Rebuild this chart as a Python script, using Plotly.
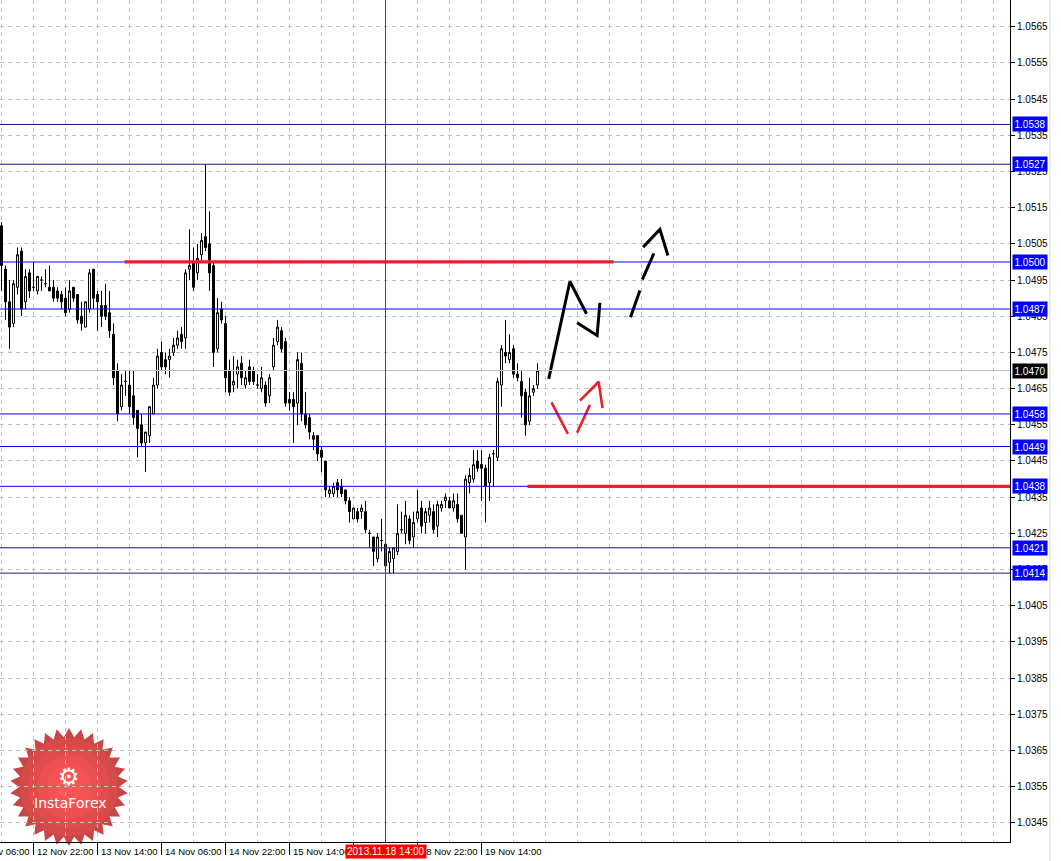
import numpy as np
import plotly.graph_objects as go

# ---------------- data (H1 bars, index 0 = 12 Nov 14:00) ----------------
open_ = [1.0510,1.0498,1.0489,1.0483,1.0493,1.0503,1.0489,1.0497,1.0493,1.0492,
         1.0495,1.0494,1.0493,1.0493,1.0492,1.0491,1.0490,1.0487,1.0493,1.0491,
         1.0485,1.0482,1.0487,1.0498,1.0491,1.0488,1.0488,1.0486,1.0480,1.0470,
         1.0460,1.0467,1.0466,1.0463,1.0459,1.0455,1.0450,1.0452,1.0458,1.0466,
         1.0475,1.0473,1.0473,1.0475,1.0477,1.0480,1.0479,1.0498,1.0500,1.0497,
         1.0502,1.0507,1.0505,1.0499,1.0476,1.0487,1.0483,1.0470,1.0466,1.0469,
         1.0472,1.0466,1.0471,1.0470,1.0466,1.0465,1.0466,1.0463,1.0471,1.0478,
         1.0481,1.0478,1.0462,1.0462,1.0461,1.0472,1.0458,1.0457,1.0452,1.0452,
         1.0448,1.0445,1.0436,1.0436,1.0439,1.0438,1.0437,1.0434,1.0429,1.0431,
         1.0431,1.0431,1.0425,1.0424,1.0418,1.0423,1.0422,1.0417,1.0418,1.0420,
         1.0426,1.0425,1.0429,1.0424,1.0429,1.0432,1.0428,1.0430,1.0431,1.0427,
         1.0432,1.0434,1.0434,1.0432,1.0433,1.0430,1.0424,1.0439,1.0440,1.0445,
         1.0444,1.0443,1.0439,1.0447,1.0446,1.0466,1.0475,1.0473,1.0476,1.0469,
         1.0467,1.0464,1.0456,1.0464,1.0466]
high = [1.0511,1.0499,1.0495,1.0495,1.0504,1.0504,1.0498,1.0498,1.0500,1.0496,
        1.0496,1.0498,1.0499,1.0495,1.0493,1.0492,1.0493,1.0495,1.0493,1.0491,
        1.0489,1.0489,1.0498,1.0498,1.0492,1.0492,1.0494,1.0492,1.0483,1.0472,
        1.0469,1.0470,1.0470,1.0470,1.0459,1.0458,1.0453,1.0460,1.0468,1.0476,
        1.0478,1.0475,1.0476,1.0479,1.0481,1.0482,1.0498,1.0509,1.0504,1.0505,
        1.0508,1.0527,1.0514,1.0500,1.0490,1.0489,1.0485,1.0473,1.0474,1.0473,
        1.0474,1.0470,1.0473,1.0471,1.0469,1.0471,1.0467,1.0469,1.0479,1.0484,
        1.0482,1.0479,1.0464,1.0464,1.0475,1.0475,1.0464,1.0458,1.0453,1.0452,
        1.0449,1.0445,1.0438,1.0439,1.0440,1.0440,1.0437,1.0435,1.0432,1.0432,
        1.0433,1.0434,1.0426,1.0424,1.0425,1.0429,1.0423,1.0421,1.0421,1.0433,
        1.0431,1.0434,1.0430,1.0431,1.0437,1.0434,1.0432,1.0434,1.0433,1.0434,
        1.0434,1.0436,1.0435,1.0436,1.0436,1.0430,1.0441,1.0443,1.0448,1.0448,
        1.0448,1.0444,1.0447,1.0448,1.0468,1.0477,1.0484,1.0480,1.0477,1.0472,
        1.0470,1.0465,1.0468,1.0466,1.0472]
low = [1.0492,1.0484,1.0476,1.0482,1.0491,1.0485,1.0487,1.0490,1.0492,1.0491,
       1.0492,1.0493,1.0492,1.0489,1.0489,1.0487,1.0485,1.0486,1.0489,1.0483,
       1.0481,1.0482,1.0486,1.0487,1.0481,1.0482,1.0484,1.0479,1.0466,1.0456,
       1.0459,1.0463,1.0458,1.0455,1.0446,1.0449,1.0442,1.0450,1.0458,1.0465,
       1.0470,1.0469,1.0468,1.0474,1.0476,1.0476,1.0476,1.0495,1.0492,1.0495,
       1.0500,1.0503,1.0492,1.0471,1.0475,1.0483,1.0464,1.0463,1.0464,1.0465,
       1.0466,1.0465,1.0466,1.0466,1.0465,1.0464,1.0460,1.0461,1.0470,1.0477,
       1.0475,1.0460,1.0459,1.0450,1.0455,1.0456,1.0454,1.0451,1.0448,1.0445,
       1.0442,1.0435,1.0435,1.0435,1.0435,1.0435,1.0433,1.0428,1.0429,1.0428,
       1.0429,1.0425,1.0421,1.0416,1.0417,1.0420,1.0415,1.0414,1.0414,1.0419,
       1.0425,1.0422,1.0422,1.0421,1.0428,1.0425,1.0425,1.0428,1.0425,1.0424,
       1.0431,1.0432,1.0432,1.0431,1.0428,1.0425,1.0415,1.0436,1.0439,1.0442,
       1.0434,1.0428,1.0434,1.0438,1.0445,1.0460,1.0472,1.0472,1.0468,1.0467,
       1.0457,1.0452,1.0455,1.0463,1.0465]
close = [1.0499,1.0489,1.0482,1.0494,1.0502,1.0487,1.0496,1.0492,1.0493,1.0496,
         1.0495,1.0494,1.0492,1.0490,1.0490,1.0489,1.0486,1.0492,1.0490,1.0484,
         1.0483,1.0489,1.0497,1.0490,1.0489,1.0485,1.0485,1.0481,1.0468,1.0458,
         1.0466,1.0467,1.0460,1.0457,1.0454,1.0450,1.0453,1.0460,1.0466,1.0474,
         1.0471,1.0471,1.0474,1.0477,1.0479,1.0478,1.0497,1.0499,1.0493,1.0501,
         1.0506,1.0504,1.0497,1.0475,1.0486,1.0484,1.0468,1.0464,1.0467,1.0471,
         1.0468,1.0468,1.0467,1.0467,1.0466,1.0468,1.0461,1.0468,1.0477,1.0482,
         1.0476,1.0461,1.0461,1.0460,1.0473,1.0458,1.0455,1.0453,1.0451,1.0447,
         1.0446,1.0437,1.0437,1.0438,1.0437,1.0436,1.0434,1.0431,1.0432,1.0429,
         1.0432,1.0426,1.0425,1.0420,1.0424,1.0423,1.0416,1.0420,1.0421,1.0425,
         1.0426,1.0430,1.0423,1.0428,1.0431,1.0427,1.0431,1.0432,1.0426,1.0433,
         1.0433,1.0435,1.0432,1.0434,1.0429,1.0425,1.0440,1.0441,1.0444,1.0443,
         1.0443,1.0438,1.0446,1.0447,1.0467,1.0476,1.0474,1.0475,1.0469,1.0468,
         1.0463,1.0455,1.0463,1.0465,1.0470]
bar_index = list(range(len(close)))

# time axis labels (bar index -> label), every 16 bars
time_tick_bars = [-8, 8, 24, 40, 56, 72, 88, 104, 120]
time_tick_text = ["12 Nov 06:00", "12 Nov 22:00", "13 Nov 14:00", "14 Nov 06:00",
                  "14 Nov 22:00", "15 Nov 14:00", "18 Nov 06:00", "18 Nov 22:00",
                  "19 Nov 14:00"]
cursor_bar = 96
cursor_label = "2013.11.18 14:00"

# price axis ticks
price_ticks = [round(1.0345 + 0.001 * i, 4) for i in range(23)]

# horizontal levels
blue_levels = [1.0538, 1.0527, 1.0500, 1.0487, 1.0458, 1.0449, 1.0438, 1.0421, 1.0414]
dark_levels = [1.0538, 1.0527, 1.0414]
current_price = 1.0470

# thick red support / resistance segments: (start bar, end bar, price)
red_segments = [(30.75, 153.0, 1.0500), (131.5, 260.0, 1.0438)]

# forecast arrows (bar index, price)
black_solid_x = [136.8, 142.1, 146.25, None, 143.9, 148.9, 149.6]
black_solid_y = [1.04677, 1.04946, 1.04857, None, 1.04832, 1.04797, 1.04887]
black_dash_x = [157.25, 159.6, None, 160.2, 163.1, None, 160.4, 164.6, 166.6]
black_dash_y = [1.04847, 1.04921, None, 1.04951, 1.05024, None, 1.05041, 1.05090, 1.05018]
red_arrow_x = [137.5, 141.6, None, 143.9, 147.1, None, 144.6, 149.3, 150.25]
red_arrow_y = [1.04612, 1.04525, None, 1.04528, 1.04605, None, 1.04617, 1.04669, 1.04596]

# ---------------- layout constants ----------------
W, H = 1061, 861
ML, MR, MT, MB = 0, 51, 0, 19
PW, PH = W - ML - MR, H - MT - MB
XMIN = -0.375
XMAX = XMIN + PW / 4.0
YMIN, YMAX = 1.03397, 1.05724
GRID = "#c0c0c0"
FONT = "Liberation Sans"


def xpaper(k):
    return (k - XMIN) / (XMAX - XMIN)


fig = go.Figure()

fig.add_trace(go.Candlestick(
    x=bar_index, open=open_, high=high, low=low, close=close,
    increasing=dict(line=dict(color="black", width=1), fillcolor="white"),
    decreasing=dict(line=dict(color="black", width=1), fillcolor="black"),
    whiskerwidth=0, hoverinfo="skip", showlegend=False))

fig.add_trace(go.Scatter(x=black_solid_x, y=black_solid_y, mode="lines",
                         line=dict(color="black", width=3), hoverinfo="skip",
                         showlegend=False, connectgaps=False))
fig.add_trace(go.Scatter(x=black_dash_x, y=black_dash_y, mode="lines",
                         line=dict(color="black", width=3), hoverinfo="skip",
                         showlegend=False, connectgaps=False))
fig.add_trace(go.Scatter(x=red_arrow_x, y=red_arrow_y, mode="lines",
                         line=dict(color="#e8202a", width=2.6), hoverinfo="skip",
                         showlegend=False, connectgaps=False))

shapes = []
# current price line
shapes.append(dict(type="line", xref="paper", x0=0, x1=1, yref="y",
                   y0=current_price, y1=current_price,
                   line=dict(color="#c0c0c0", width=1.2), layer="above"))
for lv in blue_levels:
    col = "#1a1a80" if lv in dark_levels else "#0000ff"
    shapes.append(dict(type="line", xref="paper", x0=0, x1=1, yref="y",
                       y0=lv, y1=lv, line=dict(color=col, width=1), layer="above"))
for x0, x1, lv in red_segments:
    shapes.append(dict(type="line", xref="x", x0=x0, x1=min(x1, XMAX), yref="y",
                       y0=lv, y1=lv, line=dict(color="#e8202a", width=3.2),
                       layer="above"))
# cursor vertical line
shapes.append(dict(type="line", xref="x", x0=cursor_bar, x1=cursor_bar,
                   yref="paper", y0=0, y1=1, line=dict(color="#ff0000", width=1),
                   layer="above"))
# window border on the right
shapes.append(dict(type="line", xref="paper", x0=1050 / PW, x1=1050 / PW,
                   yref="paper", y0=-MB / PH, y1=1, line=dict(color="#dcdcdc", width=1)))

# ---- InstaForex logo (decoration) ----
cx, cy = 69.0, 787.0
n_pts = 30
ang = np.linspace(0, 2 * np.pi, 2 * n_pts, endpoint=False) - np.pi / 2
rad = np.where(np.arange(2 * n_pts) % 2 == 0, 59.0, 50.0)
px = cx + rad * np.cos(ang)
py = cy + rad * np.sin(ang)
path = "M " + " L ".join(f"{x / PW:.5f},{1 - y / PH:.5f}" for x, y in zip(px, py)) + " Z"
shapes.append(dict(type="path", xref="paper", yref="paper", path=path,
                   fillcolor="#c94646", line=dict(width=0), layer="below"))
for r, c in [(49, "#d64a4a"), (41, "#e14d4d"), (32, "#ec5050"), (22, "#f55353"), (12, "#fc5656")]:
    shapes.append(dict(type="circle", xref="paper", yref="paper",
                       x0=(cx - r) / PW, x1=(cx + r) / PW,
                       y0=1 - (cy + r) / PH, y1=1 - (cy - r) / PH,
                       fillcolor=c, line=dict(width=0), layer="below"))

annotations = []
annotations.append(dict(text="⚙", xref="paper", yref="paper", x=68.5 / PW,
                        y=1 - 777 / PH, xanchor="center", yanchor="middle",
                        showarrow=False,
                        font=dict(family="DejaVu Sans", size=24, color="white")))
annotations.append(dict(text="InstaForex", xref="paper", yref="paper", x=70 / PW,
                        y=1 - 803 / PH, xanchor="center", yanchor="middle",
                        showarrow=False,
                        font=dict(family="DejaVu Sans", size=14, color="white")))

# time labels (left aligned next to tick marks)
for k, t in zip(time_tick_bars, time_tick_text):
    annotations.append(dict(text=t, xref="paper", x=xpaper(k), xanchor="left",
                            xshift=1, yref="paper", y=0, yanchor="top", yshift=-2,
                            showarrow=False, font=dict(family=FONT, size=9.5, color="black")))
annotations.append(dict(text=cursor_label, xref="x", x=cursor_bar, xanchor="center",
                        yref="paper", y=0, yanchor="top", yshift=-2, showarrow=False,
                        bgcolor="#ff0000", borderpad=1,
                        font=dict(family=FONT, size=10, color="white")))

# price labels on the right axis
for lv in blue_levels:
    annotations.append(dict(text=f"{lv:.4f}", xref="paper", x=1, xanchor="left",
                            xshift=2, yref="y", y=lv, yanchor="middle",
                            showarrow=False, bgcolor="#0000ff", borderpad=1.5,
                            font=dict(family=FONT, size=10, color="white")))
annotations.append(dict(text=f"{current_price:.4f}", xref="paper", x=1, xanchor="left",
                        xshift=2, yref="y", y=current_price, yanchor="middle",
                        showarrow=False, bgcolor="#000000", borderpad=1.5,
                        font=dict(family=FONT, size=10, color="white")))

fig.update_layout(
    width=W, height=H,
    margin=dict(l=ML, r=MR, t=MT, b=MB, pad=0),
    paper_bgcolor="white", plot_bgcolor="white",
    showlegend=False, hovermode=False,
    shapes=shapes, annotations=annotations,
    xaxis=dict(range=[XMIN, XMAX], rangeslider=dict(visible=False),
               showline=True, linecolor="black", linewidth=1,
               tickmode="array", tickvals=time_tick_bars, ticktext=[""] * len(time_tick_bars),
               ticks="outside", ticklen=12, tickcolor="black", tickwidth=1,
               showticklabels=False,
               showgrid=True, gridcolor=GRID, griddash="4px,4px", gridwidth=1,
               minor=dict(tick0=0, dtick=8, showgrid=True, gridcolor=GRID,
                          griddash="4px,4px", ticks=""),
               zeroline=False, fixedrange=True),
    yaxis=dict(range=[YMIN, YMAX], side="right",
               tickmode="array", tickvals=price_ticks,
               ticktext=[f"{p:.4f}" for p in price_ticks],
               ticks="outside", ticklen=4, tickcolor="black",
               tickfont=dict(family=FONT, size=10, color="black"),
               showline=True, linecolor="black", linewidth=1,
               showgrid=True, gridcolor=GRID, griddash="4px,4px", gridwidth=1,
               zeroline=False, fixedrange=True),
)

fig.write_html("out.html", config={"displayModeBar": False},
               post_script="document.body.style.margin='0';document.body.style.overflow='hidden';")
